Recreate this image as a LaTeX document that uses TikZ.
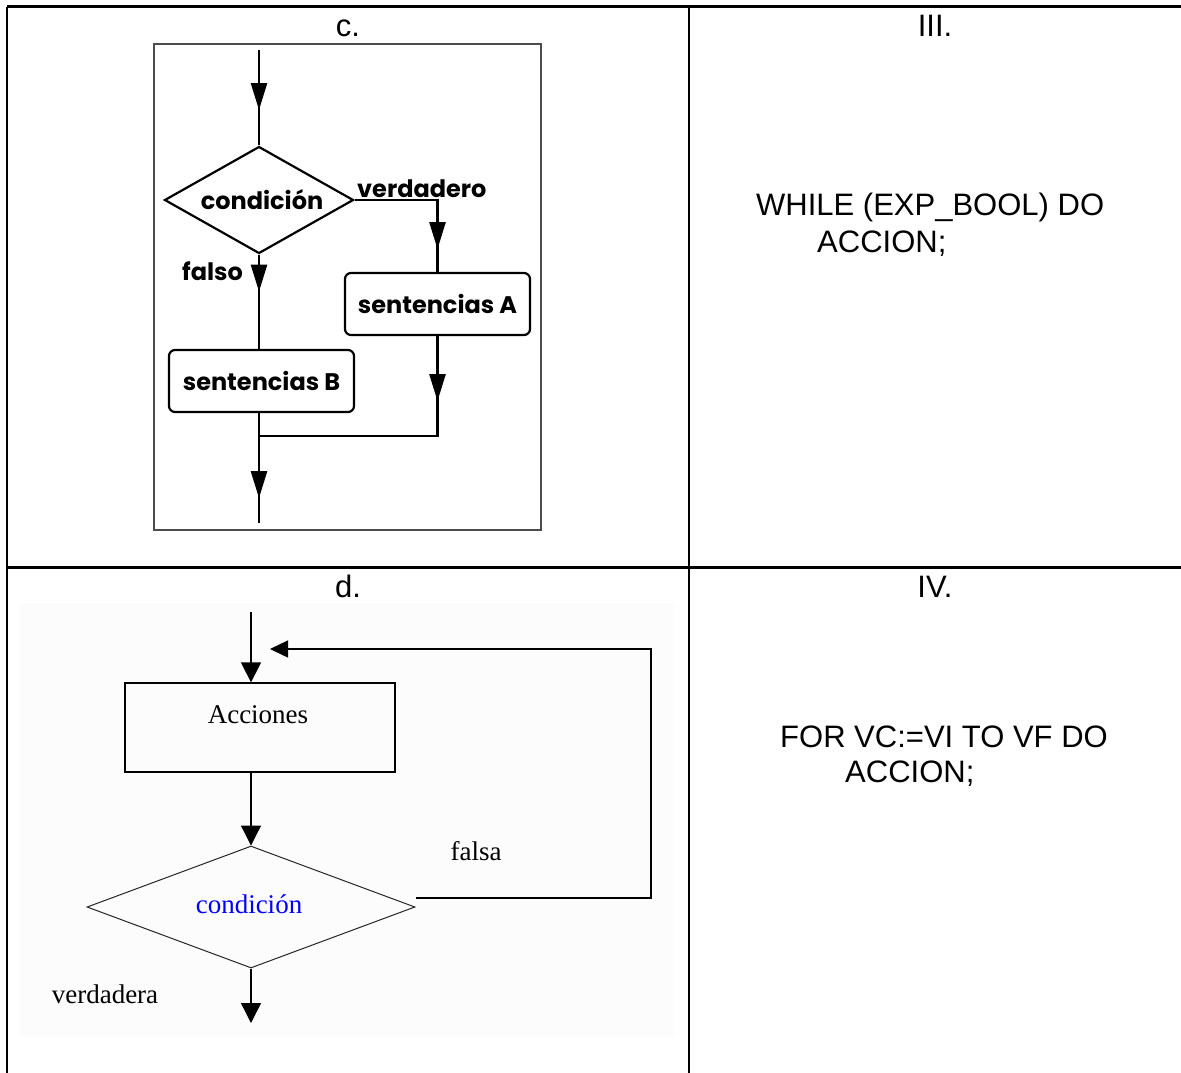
\documentclass[tikz,border=0pt]{standalone}
\usepackage{fontspec}
\usetikzlibrary{shapes.geometric,arrows.meta,decorations.markings}
\newfontfamily\labelfont{Liberation Sans}
\newfontfamily\chartfont{Poppins}
\newfontfamily\serifchart{Liberation Serif}

\tikzset{
  ctip/.tip={Triangle[length=27pt,width=16pt]},
  dtip/.tip={Triangle[length=20pt,width=20pt]},
  ltip/.tip={Triangle[length=18pt,width=17pt]},
}

\begin{document}
\begin{tikzpicture}[x=1pt,y=-1pt,
  grid/.style={line width=2.2pt,black},
  hdr/.style={font=\labelfont\fontsize{31}{37}\selectfont,inner sep=0pt},
  cfont/.style={font=\chartfont\bfseries\fontsize{24}{28}\selectfont},
  cline/.style={line width=2.5pt,black},
  cbox/.style={draw,line width=2.2pt,rounded corners=6pt,minimum width=185pt,
    minimum height=62pt,inner sep=0pt,cfont},
  midtip/.style={postaction={decorate},
    decoration={markings,mark=at position #1 with {\arrow{ctip}}}},
  dfont/.style={font=\serifchart\fontsize{27}{31}\selectfont,inner sep=0pt},
  dline/.style={line width=1.3pt,black},
]
\useasboundingbox (0,0) rectangle (1181,1072);
\fill[white] (0,0) rectangle (1181,1072);

% table grid
\draw[grid] (7,6.5) -- (1190,6.5);
\draw[grid] (7,6.5) -- (7,1080);
\draw[grid] (689,6.5) -- (689,1080);
\draw[grid] (7,567.5) -- (1190,567.5);

% cell headings
\node[hdr,anchor=base] (hc) at (348,36) {c.};
\node[hdr,anchor=base] (h3) at (935,36) {III.};
\node[hdr,anchor=base] (hd) at (348,597) {d.};
\node[hdr,anchor=base] (h4) at (935,597) {IV.};

% code cells
\node[hdr,anchor=base west] (w1) at (756,215) {WHILE (EXP\_BOOL) DO};
\node[hdr,anchor=base west] (w2) at (817,252) {ACCION;};
\node[hdr,anchor=base west] (f1) at (780,747) {FOR VC:=VI TO VF DO};
\node[hdr,anchor=base west] (f2) at (845,782) {ACCION;};

% ---- flowchart c: if / else ----
\draw[line width=1.5pt,black!70] (154,44) rectangle (541,530);
\coordinate (cin) at (259,50);
\coordinate (cjoin) at (259,436);
\coordinate (cout) at (259,523);
\node[diamond,draw,line width=2.2pt,aspect=1.77,minimum width=189pt,
  minimum height=107pt,inner sep=0pt,cfont] (ccond) at (259,200) {\hspace*{6pt}condición};
\node[cbox] (cboxA) at (437.5,304) {sentencias A};
\node[cbox] (cboxB) at (261.5,381) {sentencias B};
\node[cfont,inner sep=0pt,anchor=base west] (ctrue) at (357,197) {verdadero};
\node[cfont,inner sep=0pt,anchor=base west] (cfalse) at (182,280) {falso};

\draw[cline,midtip=60pt] (cin) -- (ccond.north);
\draw[cline,midtip=37pt] (ccond.south) -- (ccond.south |- cboxB.north);
\draw[cline,midtip=132pt] (ccond.east) -| (cboxA.north);
\draw[cline,midtip=65pt] (cboxA.south) |- (cjoin);
\draw[cline,midtip=85pt] (cout |- cboxB.south) -- (cout);

% ---- flowchart d: repeat / until ----
\fill[black!1.2] (20,603) rectangle (674,1036);
\coordinate (dtop) at (251,612);
\coordinate (dcorner) at (651,649);
\coordinate (dret) at (270,649);
\coordinate (dout) at (251,1023);
\node[draw,line width=1.3pt,minimum width=270pt,minimum height=89pt,
  inner sep=0pt] (dact) at (260,727.5) {};
\node[dfont,anchor=base] (dactl) at (258,723) {Acciones};
\node[diamond,draw=black!85,line width=1pt,aspect=2.69,minimum width=328pt,
  minimum height=122pt,inner sep=0pt] (dcond) at (251,907) {};
\node[dfont,anchor=base,text=blue] (dcondl) at (249,913) {condición};
\node[dfont,anchor=base] (dfalse) at (476,860) {falsa};
\node[dfont,anchor=base] (dtrue) at (105,1003) {verdadera};

\draw[dline,-{dtip}] (dtop) -- (dtop |- dact.north);
\draw[dline,-{dtip}] (dcond.north |- dact.south) -- (dcond.north);
\draw[dline,-{ltip}] ([yshift=9pt]dcond.east) -| (dcorner) -- (dret);
\draw[dline,-{dtip}] (dcond.south) -- (dout);
\end{tikzpicture}
\end{document}
